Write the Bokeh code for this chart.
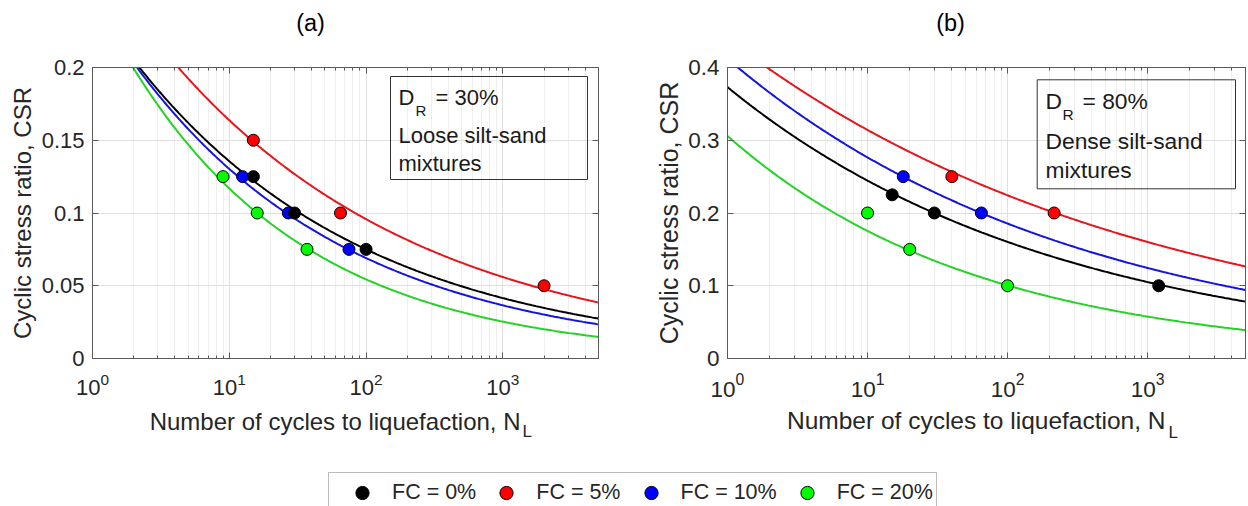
import numpy as np
from math import log10, pi
from bokeh.plotting import figure
from bokeh.models import (Range1d, FixedTicker, LogAxis, LinearAxis, Label, BoxAnnotation,
                          Legend, LegendItem, CustomJSTickFormatter, LogTickFormatter)
from bokeh.layouts import column, row
from bokeh.embed import file_html
from bokeh.resources import INLINE

FONT = "Liberation Sans"
TXT = "#262626"
AXC = "#5a5a5a"

# ---------------- data ----------------
fc_labels = ["FC = 0%", "FC = 5%", "FC = 10%", "FC = 20%"]
point_colors = ["#000000", "#ff0000", "#0000ff", "#00ff00"]
line_colors = ["#000000", "#e8141a", "#1414e0", "#22d422"]

x_ticks = [1, 10, 100, 1000]
x_minor_ticks = [2, 3, 4, 5, 6, 7, 8, 9, 20, 30, 40, 50, 60, 70, 80, 90,
                 200, 300, 400, 500, 600, 700, 800, 900, 2000, 3000, 4000, 5000]
a_y_ticks = [0, 0.05, 0.1, 0.15, 0.2]
b_y_ticks = [0, 0.1, 0.2, 0.3, 0.4]

# Panel (a): DR = 30 %
a_N_fc0 = [15, 30, 100]
a_CSR_fc0 = [0.125, 0.1, 0.075]
a_N_fc5 = [15, 65, 2000]
a_CSR_fc5 = [0.15, 0.1, 0.05]
a_N_fc10 = [12.5, 27, 75]
a_CSR_fc10 = [0.125, 0.1, 0.075]
a_N_fc20 = [9, 16, 37]
a_CSR_fc20 = [0.125, 0.1, 0.075]
a_fit_coef = [0.245, 0.28, 0.246, 0.251]      # fitted CSR = coef * N^(-exp)
a_fit_exp = [0.257, 0.233, 0.276, 0.332]

# Panel (b): DR = 80 %
b_N_fc0 = [15, 30, 1200]
b_CSR_fc0 = [0.225, 0.2, 0.1]
b_N_fc5 = [40, 215]
b_CSR_fc5 = [0.25, 0.2]
b_N_fc10 = [18, 65]
b_CSR_fc10 = [0.25, 0.2]
b_N_fc20 = [10, 20, 100]
b_CSR_fc20 = [0.2, 0.15, 0.1]
b_fit_coef = [0.373, 0.44, 0.412, 0.306]
b_fit_exp = [0.1834, 0.1463, 0.1733, 0.2418]

X_MIN, X_MAX = 1, 5000
W = 1248
ROW_Y0, ROW_H = 40, 368          # main row occupies y 40..408
FT, FB = 67, 358                 # frame top / bottom (page px)


def strip(width, height, top=0, bottom=0):
    s = figure(width=width, height=height, output_backend="svg", toolbar_location=None,
               x_axis_location=None, y_axis_location=None,
               min_border_left=0, min_border_right=0,
               min_border_top=top, min_border_bottom=bottom,
               x_range=Range1d(0, width), y_range=Range1d(height - bottom, top))
    s.outline_line_color = None
    s.grid.visible = False
    s.background_fill_color = "white"
    s.border_fill_color = "white"
    return s


def txt(p, x, y, text, size, align="left", angle=0, color=TXT):
    p.add_layout(Label(x=x, y=y, text=text, text_font=FONT, text_font_size=size,
                       text_color=color, text_align=align, text_baseline="middle",
                       angle=angle))


def make_panel(ox, width, fl_g, fr_g, ymax, yticks, pts_N, pts_CSR, coefs, exps,
               tick_fs, box, texts, box_fs):
    fl, fr = fl_g - ox, fr_g - ox
    ft, fb = FT - ROW_Y0, FB - ROW_Y0
    p = figure(width=width, height=ROW_H, x_axis_type="log",
               x_range=Range1d(X_MIN, X_MAX), y_range=Range1d(0, ymax),
               output_backend="svg", toolbar_location=None,
               min_border_left=fl, min_border_right=width - fr,
               min_border_top=ft, min_border_bottom=ROW_H - fb)
    p.background_fill_color = "white"
    p.border_fill_color = "white"
    p.outline_line_color = AXC

    def d(gx, gy):
        cx, cy = gx - ox, gy - ROW_Y0
        lx = (cx - fl) / (fr - fl) * (log10(X_MAX) - log10(X_MIN)) + log10(X_MIN)
        return 10 ** lx, (fb - cy) / (fb - ft) * ymax

    xt = FixedTicker(ticks=x_ticks, minor_ticks=x_minor_ticks)
    yt = FixedTicker(ticks=yticks)

    xa = p.xaxis[0]
    xa.ticker = xt
    xa.formatter = LogTickFormatter()
    ya = p.yaxis[0]
    ya.ticker = yt
    ya.formatter = CustomJSTickFormatter(code="return String(tick);")
    for ax in (xa, ya):
        ax.major_tick_in = 6
        ax.major_tick_out = 0
        ax.minor_tick_in = 3
        ax.minor_tick_out = 0
        ax.axis_line_color = AXC
        ax.major_tick_line_color = AXC
        ax.minor_tick_line_color = AXC
        ax.major_label_text_font = FONT
        ax.major_label_text_font_size = tick_fs
        ax.major_label_text_color = TXT
    xa.major_label_standoff = 14
    ya.major_label_standoff = 8

    top = LogAxis(ticker=xt, formatter=CustomJSTickFormatter(code="return '';"),
                  major_label_text_font_size="0px", major_label_standoff=0,
                  major_tick_in=6, major_tick_out=0, minor_tick_in=3, minor_tick_out=0,
                  axis_line_color=AXC, major_tick_line_color=AXC, minor_tick_line_color=AXC)
    p.add_layout(top, "above")
    right = LinearAxis(ticker=yt, formatter=CustomJSTickFormatter(code="return '';"),
                       major_label_text_font_size="0px", major_label_standoff=0,
                       major_tick_in=6, major_tick_out=0,
                       axis_line_color=AXC, major_tick_line_color=AXC)
    p.add_layout(right, "right")

    p.xgrid.ticker = xt
    p.xgrid.grid_line_color = "#e0e0e0"
    p.xgrid.minor_grid_line_color = "#eeeeee"
    p.ygrid.ticker = yt
    p.ygrid.grid_line_color = "#e0e0e0"

    Ncurve = np.logspace(log10(X_MIN), log10(X_MAX), 300)
    order = [3, 2, 1, 0]
    for i in order:
        p.line(Ncurve, coefs[i] * Ncurve ** (-exps[i]), line_color=line_colors[i], line_width=2)
    for i in order:
        p.scatter(pts_N[i], pts_CSR[i], marker="circle", size=12,
                  fill_color=point_colors[i], line_color="black", line_width=1)

    l, t = d(box[0], box[2])
    r, b = d(box[1], box[3])
    p.add_layout(BoxAnnotation(left=l, right=r, top=t, bottom=b, fill_alpha=0,
                               line_color="#333333", line_alpha=1, line_width=1))
    for (gx, gy, text, fs) in texts:
        x, y = d(gx, gy)
        txt(p, x, y, text, fs if fs else box_fs, color="#1a1a1a")
    return p


YA_W = 38          # y-label strip of panel (a): page x 0..38
YB_X0, YB_W = 640, 44   # y-label strip of panel (b): page x 640..684

pa = make_panel(YA_W, YB_X0 - YA_W, 92, 598, 0.2, a_y_ticks,
                [a_N_fc0, a_N_fc5, a_N_fc10, a_N_fc20],
                [a_CSR_fc0, a_CSR_fc5, a_CSR_fc10, a_CSR_fc20],
                a_fit_coef, a_fit_exp, "22px",
                (390, 587, 76, 179),
                [(398, 96.5, "D", None), (415, 110, "R", "15px"), (435, 97, "= 30%", None),
                 (398, 135, "Loose silt-sand", None), (398, 163, "mixtures", None)],
                "22px")

pb = make_panel(YB_X0 + YB_W, W - YB_X0 - YB_W, 727, 1245, 0.4, b_y_ticks,
                [b_N_fc0, b_N_fc5, b_N_fc10, b_N_fc20],
                [b_CSR_fc0, b_CSR_fc5, b_CSR_fc10, b_CSR_fc20],
                b_fit_coef, b_fit_exp, "22.5px",
                (1036.7, 1235, 79.3, 188.3),
                [(1045, 100.5, "D", None), (1062, 114, "R", "15.5px"), (1082, 100.5, "= 80%", None),
                 (1045, 140, "Dense silt-sand", None), (1045, 169, "mixtures", None)],
                "22.8px")

# titles strip (page y 0..40)
ts = strip(W, 40)
txt(ts, 310, 22, "(a)", "23.5px", align="center", color="black")
txt(ts, 950, 22, "(b)", "23.5px", align="center", color="black")

# y-label strips (same frame rows as the panels)
yl_top, yl_bot = FT - ROW_Y0, ROW_Y0 + ROW_H - FB
ya_s = strip(YA_W, ROW_H, yl_top, yl_bot)
txt(ya_s, 22, (FT + FB) / 2 - ROW_Y0, "Cyclic stress ratio, CSR", "24px", align="center", angle=pi / 2)
yb_s = strip(YB_W, ROW_H, yl_top, yl_bot)
txt(yb_s, 668 - YB_X0, (FT + FB) / 2 - ROW_Y0, "Cyclic stress ratio, CSR", "25px", align="center", angle=pi / 2)

# x-label strip (page y 408..446)
XL_Y0 = ROW_Y0 + ROW_H
xs = strip(W, 38)
txt(xs, 520, 421 - XL_Y0, "Number of cycles to liquefaction, N", "24px", align="right")
txt(xs, 522, 431 - XL_Y0, "L", "17px")
txt(xs, 1165, 420 - XL_Y0, "Number of cycles to liquefaction, N", "24.5px", align="right")
txt(xs, 1168, 431.5 - XL_Y0, "L", "17px")

# legend strip (page y 446..506)
LG_H = 60
pl = strip(W, LG_H)
items = []
for i in range(4):
    rr = pl.scatter([-100], [-100], marker="circle", size=13, fill_color=point_colors[i],
                    line_color="black", line_width=1)
    items.append(LegendItem(label=fc_labels[i], renderers=[rr]))
leg = Legend(items=items, orientation="horizontal", location=(328, -7),
             glyph_width=60, glyph_height=33, label_standoff=0, spacing=0, padding=3,
             label_text_font=FONT, label_text_font_size="21.5px", label_text_color=TXT,
             border_line_color="#7a7a7a", border_line_width=1,
             background_fill_color="white", background_fill_alpha=1)
pl.add_layout(leg)

layout = column(ts, row(ya_s, pa, yb_s, pb), xs, pl)
open("out.html", "w").write(file_html(layout, INLINE))
